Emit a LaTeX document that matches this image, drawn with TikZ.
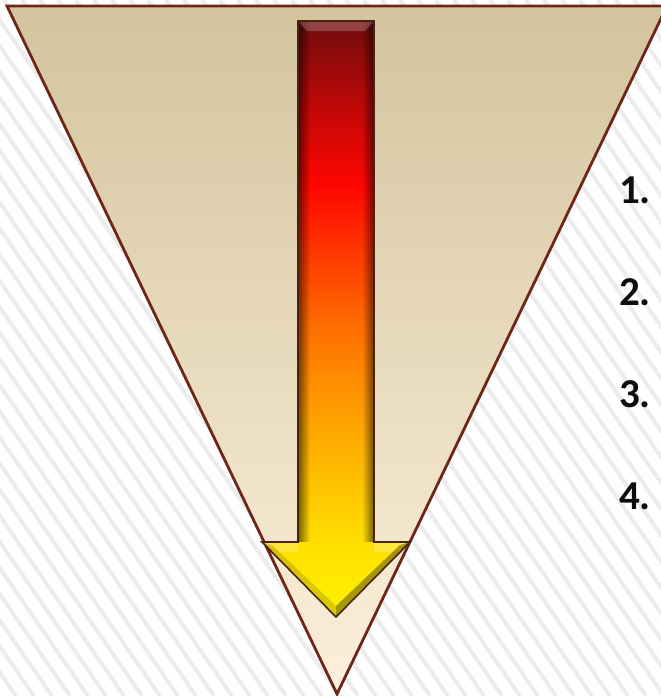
\documentclass[tikz,border=0pt]{standalone}
\usepackage{fontspec}
\setmainfont{Carlito}
\usetikzlibrary{fadings}
\definecolor{tanT}{RGB}{211,196,158}
\definecolor{tanB}{RGB}{252,240,218}
\definecolor{triline}{RGB}{110,38,24}
\definecolor{arrline}{RGB}{72,34,18}
\definecolor{stripecol}{RGB}{236,236,236}
\definecolor{ay}{RGB}{255,242,0}
\definecolor{ay2}{RGB}{255,222,0}
\definecolor{ao1}{RGB}{255,168,0}
\definecolor{ao2}{RGB}{255,112,0}
\definecolor{ar}{RGB}{255,6,0}
\definecolor{adr}{RGB}{185,8,8}
\definecolor{adk}{RGB}{112,12,12}
\pgfdeclareverticalshading{arrowshade}{100bp}{color(0bp)=(ay); color(25bp)=(ay); color(31.5bp)=(ay2); color(40.7bp)=(ao1); color(49.1bp)=(ao2); color(61.2bp)=(ar); color(68.4bp)=(adr); color(75bp)=(adk); color(100bp)=(adk)}
\tikzfading[name=fadeR, left color=transparent!0, right color=transparent!100]
\tikzfading[name=fadeL, left color=transparent!100, right color=transparent!0]
\newcommand\myarrowpath{(298,21) -- (374,21) -- (374,542) -- (410,542) -- (336,617) -- (262,542) -- (298,542) -- cycle}
\tikzset{
  stripe/.style={draw=stripecol, line width=4pt},
  num/.style={anchor=base west, inner sep=0pt, font=\fontsize{41}{48}\selectfont\bfseries, text=black!95},
}
\begin{document}
\begin{tikzpicture}[x=1pt,y=-1pt]
\useasboundingbox (0,0) rectangle (661,696);
\fill[white] (0,0) rectangle (661,696);
\begin{scope}
\clip (0,0) rectangle (661,696);
\foreach \k in {-500,-482,...,661} \draw[stripe] (\k,0) -- ++(480,696);
% funnel triangle
\shade[top color=tanT, bottom color=tanB] (7,6) -- (667,6) -- (337,694) -- cycle;
\draw[triline, line width=2.8pt, line join=miter] (7,6) -- (667,6) -- (337,694) -- cycle;
\end{scope}
% arrow
\shade[shading=arrowshade] \myarrowpath;
\fill[black, fill opacity=.55, path fading=fadeR] (298,21) rectangle (310,542);
\fill[black, fill opacity=.55, path fading=fadeL] (362,21) rectangle (374,542);
\fill[white, fill opacity=.22] (298,21) -- (374,21) -- (365,31) -- (307,31) -- cycle;
\fill[white, fill opacity=.25] (262,542) -- (298,542) -- (298,552) -- (280,552) -- cycle;
\fill[white, fill opacity=.25] (410,542) -- (374,542) -- (374,552) -- (392,552) -- cycle;
\fill[black, fill opacity=.35] (336,617) -- (410,542) -- (400,545) -- (336,606) -- cycle;
\fill[black, fill opacity=.15] (336,617) -- (262,542) -- (272,545) -- (336,606) -- cycle;
\draw[arrline, line width=1.6pt, line join=miter] \myarrowpath;
% numbers
\node[num] (n1) at (619,203) {1.};
\node[num] (n2) at (619,305) {2.};
\node[num] (n3) at (619,407) {3.};
\node[num] (n4) at (619,509) {4.};
\end{tikzpicture}
\end{document}
